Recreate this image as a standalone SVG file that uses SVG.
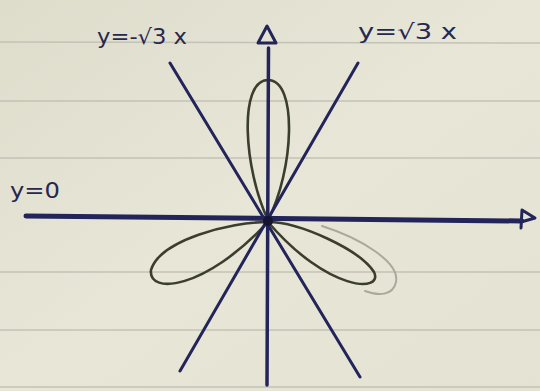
<svg xmlns="http://www.w3.org/2000/svg" width="540" height="391" viewBox="0 0 540 391">
  <defs>
    <linearGradient id="paperGrad" x1="0" y1="0" x2="1" y2="1">
      <stop offset="0" stop-color="#dedccb"/>
      <stop offset="0.5" stop-color="#e8e6d7"/>
      <stop offset="1" stop-color="#e4e2d2"/>
    </linearGradient>
    <style>
      .rule { stroke: #c3c2b6; stroke-width: 1.5; fill: none; }
      .ink { stroke: #22245a; fill: none; stroke-linecap: round; stroke-linejoin: round; }
      .petal { stroke: #3b3e2c; stroke-width: 2.6; fill: none; stroke-linecap: round; }
      .ghost { stroke: #a9a99c; stroke-width: 2; fill: none; stroke-linecap: round; }
      .label { font-family: "DejaVu Sans", "Liberation Sans", sans-serif; fill: #26284f; font-size: 21px; }
    </style>
  </defs>

  <g id="paper">
    <rect x="0" y="0" width="540" height="391" fill="url(#paperGrad)"/>
    <line class="rule" x1="0" y1="42" x2="540" y2="43"/>
    <line class="rule" x1="0" y1="101" x2="540" y2="101"/>
    <line class="rule" x1="0" y1="158" x2="540" y2="158"/>
    <line class="rule" x1="0" y1="272" x2="540" y2="272"/>
    <line class="rule" x1="0" y1="330" x2="540" y2="330"/>
    <line class="rule" x1="0" y1="387" x2="540" y2="387"/>
  </g>

  <g id="curve">
    <path class="ghost" d="M322,226 C360,238 400,262 396,282 C393,296 378,296 365,291"/>
    <path id="petal-up" class="petal" d="M268,220 C244,170 238,80 268,80 C298,80 294,170 268,220"/>
    <path id="petal-left" class="petal" d="M268,222 C230,222 160,240 151,270 C148,295 205,290 268,222"/>
    <path id="petal-right" class="petal" d="M268,222 C300,222 360,250 374,272 C384,293 328,292 268,222"/>
  </g>

  <g id="connectors">
    <line id="line-neg" class="ink" stroke-width="3" x1="170" y1="63" x2="360" y2="377"/>
    <line id="line-pos" class="ink" stroke-width="3" x1="358" y1="63" x2="180" y2="371"/>
    <line id="y-axis" class="ink" stroke-width="3.5" x1="268.5" y1="48" x2="267" y2="385"/>
    <polygon id="y-arrow" class="ink" stroke-width="3" points="267,26 258,43 276,43"/>
    <line id="x-axis" class="ink" stroke-width="5" x1="26" y1="216" x2="522" y2="221"/>
    <path id="x-arrow" class="ink" stroke-width="3" d="M521,228 L522,210 L535,218 L521,222"/>
    <circle cx="268" cy="221" r="5" fill="#15162e"/>
  </g>

  <g id="labels">
    <text class="label" x="97" y="44" textLength="90" lengthAdjust="spacingAndGlyphs">y=-√3 x</text>
    <text class="label" x="358" y="39" textLength="99" lengthAdjust="spacingAndGlyphs">y=√3 x</text>
    <text class="label" x="10" y="198" textLength="50" lengthAdjust="spacingAndGlyphs">y=0</text>
  </g>
</svg>
